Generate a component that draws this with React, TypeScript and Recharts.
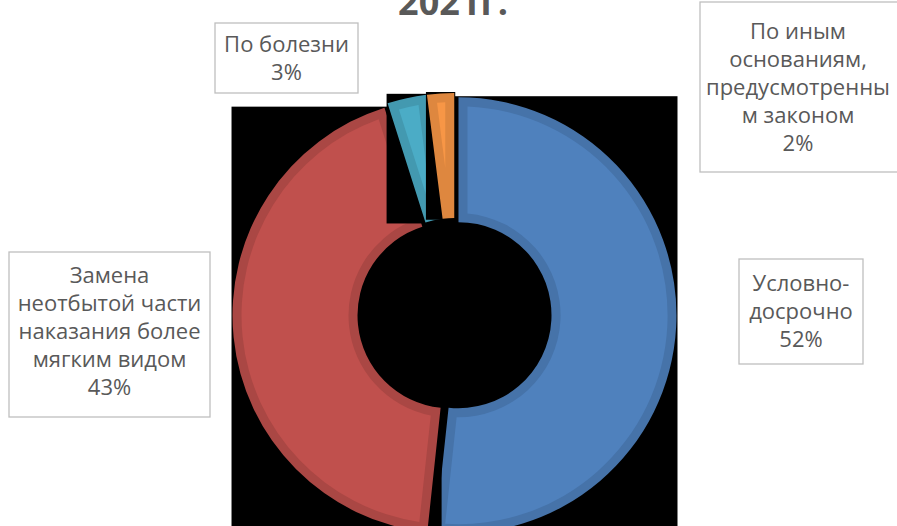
import React from 'react';
import { PieChart, Pie, Cell } from 'recharts';

// ---------- data ----------
const title = '2021г.';
const categories = [
  'Условно-досрочно',
  'Замена неотбытой части наказания более мягким видом',
  'По болезни',
  'По иным основаниям, предусмотренным законом',
];
const values = [51.7, 43.4, 2.9, 2.0];
const labelLines = [
  ['Условно-', 'досрочно'],
  ['Замена', 'неотбытой части', 'наказания более', 'мягким видом'],
  ['По болезни'],
  ['По иным', 'основаниям,', 'предусмотренны', 'м законом'],
];

// ---------- styles / layout ----------
const FILL = ['#4F81BD', '#C0504D', '#4BACC6', '#F79646'];
const EDGE = ['#4673A9', '#AA4744', '#4399B0', '#DE873F'];
const TEXT = '#595959';
const FONT = '"Open Sans", "DejaVu Sans", sans-serif';
const EXPLODE = 4;
const BAND = 9;
// label boxes placed relative to the pie centre (manually placed, as in the original)
const LABEL_BOX = [
  { dx: 346.5, dy: -3.5, w: 124, h: 105, tx: 0, ty: 0 },
  { dx: -345, dy: 19.5, w: 201, h: 165, tx: 0, ty: -3 },
  { dx: -168, dy: -257, w: 143, h: 70, tx: 0, ty: 0 },
  { dx: 354.5, dy: -228, w: 218, h: 170, tx: -11, ty: 0 },
];
const LINE_H = 28;
const FONT_SIZE = 22;

const data = categories.map((name, i) => ({ name, value: values[i] }));

const RAD = Math.PI / 180;
const P = (cx: number, cy: number, r: number, a: number) => [
  cx + r * Math.cos(a * RAD),
  cy - r * Math.sin(a * RAD),
];
const f = (p: number[]) => `${p[0].toFixed(2)},${p[1].toFixed(2)}`;

function ringPath(cx: number, cy: number, ri: number, ro: number, lo: number, hi: number, h: number) {
  const Ro = ro - h;
  const Ri = ri + h;
  if (Ro <= Ri) return null;
  const aO = Math.asin(Math.min(1, h / Ro)) / RAD;
  const aI = Math.asin(Math.min(1, h / Ri)) / RAD;
  const span = hi - lo;
  if (span - 2 * aO <= 0) return null;
  const o1 = P(cx, cy, Ro, lo + aO);
  const o2 = P(cx, cy, Ro, hi - aO);
  const largeO = span - 2 * aO > 180 ? 1 : 0;
  if (span - 2 * aI > 0) {
    const i1 = P(cx, cy, Ri, hi - aI);
    const i2 = P(cx, cy, Ri, lo + aI);
    const largeI = span - 2 * aI > 180 ? 1 : 0;
    return `M${f(o1)} A${Ro},${Ro} 0 ${largeO} 0 ${f(o2)} L${f(i1)} A${Ri},${Ri} 0 ${largeI} 1 ${f(i2)} Z`;
  }
  const half = (span / 2) * RAD;
  const d0 = h / Math.sin(half);
  if (d0 >= Ro) return null;
  const apex = P(cx, cy, d0, (lo + hi) / 2);
  return `M${f(apex)} L${f(o1)} A${Ro},${Ro} 0 ${largeO} 0 ${f(o2)} Z`;
}

function bbox(cx: number, cy: number, ri: number, ro: number, lo: number, hi: number) {
  const pts = [P(cx, cy, ro, lo), P(cx, cy, ro, hi), P(cx, cy, ri, lo), P(cx, cy, ri, hi)];
  for (let k = Math.ceil(lo / 90) * 90; k <= hi; k += 90) {
    if (k > lo && k < hi) pts.push(P(cx, cy, ro, k));
  }
  const xs = pts.map((p) => p[0]);
  const ys = pts.map((p) => p[1]);
  const x0 = Math.min(...xs);
  const y0 = Math.min(...ys);
  return { x: x0, y: y0, w: Math.max(...xs) - x0, h: Math.max(...ys) - y0 };
}

const renderSlice = (props: any) => {
  const { cx, cy, innerRadius, outerRadius, startAngle, endAngle, index, percent } = props;
  const lo = Math.min(startAngle, endAngle);
  const hi = Math.max(startAngle, endAngle);
  const mid = (lo + hi) / 2;
  const ox = cx + EXPLODE * Math.cos(mid * RAD);
  const oy = cy - EXPLODE * Math.sin(mid * RAD);
  const b = bbox(ox, oy, innerRadius, outerRadius, lo, hi);
  const full = ringPath(ox, oy, innerRadius, outerRadius, lo, hi, 0);
  const inner = ringPath(ox, oy, innerRadius, outerRadius, lo, hi, BAND);
  const L = LABEL_BOX[index];
  const lines = [...labelLines[index], `${Math.round(percent * 100)}%`];
  const bx = cx + L.dx;
  const by = cy + L.dy;
  const n = lines.length;
  return (
    <g key={`slice-${index}`}>
      <rect x={b.x - 1} y={b.y - 1} width={b.w + 2} height={b.h + 2} fill="#000" />
      {full && <path d={full} fill={EDGE[index]} />}
      {inner && <path d={inner} fill={FILL[index]} />}
      <rect
        x={bx - L.w / 2}
        y={by - L.h / 2}
        width={L.w}
        height={L.h}
        fill="#fff"
        stroke="#BFBFBF"
        strokeWidth={1.3}
      />
      <text
        textAnchor="middle"
        fill={TEXT}
        fontFamily={FONT}
        fontSize={FONT_SIZE}
      >
        {lines.map((ln, k) => (
          <tspan key={k} x={bx + L.tx} y={by + L.ty + (k - (n - 1) / 2) * LINE_H + 7.5}>
            {ln}
          </tspan>
        ))}
      </text>
    </g>
  );
};

export default function App() {
  return (
    <div
      style={{
        position: 'absolute',
        left: 0,
        top: 0,
        width: 897,
        height: 526,
        overflow: 'hidden',
        background: '#fff',
      }}
    >
      <PieChart width={897} height={526} margin={{ top: 0, right: 0, bottom: 0, left: 0 }}>
        <Pie
          data={data}
          dataKey="value"
          nameKey="name"
          cx={454.5}
          cy={315}
          innerRadius={93}
          outerRadius={218}
          startAngle={90}
          endAngle={-270}
          stroke="none"
          isAnimationActive={false}
          label={renderSlice}
          labelLine={false}
        >
          {data.map((_, i) => (
            <Cell key={i} fill="transparent" stroke="none" />
          ))}
        </Pie>
      </PieChart>
      <svg
        width={897}
        height={526}
        style={{ position: 'absolute', left: 0, top: 0, pointerEvents: 'none' }}
      >
        <text
          x={453}
          y={15}
          textAnchor="middle"
          fontFamily={FONT}
          fontWeight={700}
          fontSize={36}
          fill={TEXT}
        >
          {title}
        </text>
      </svg>
    </div>
  );
}
